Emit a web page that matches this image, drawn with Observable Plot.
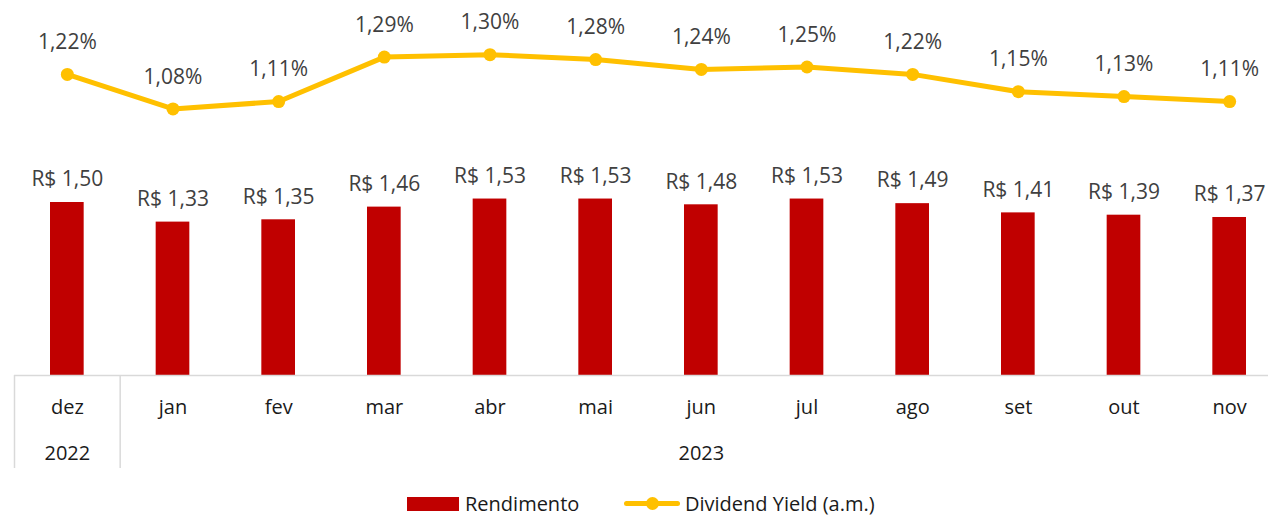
<!DOCTYPE html>
<html><head><meta charset="utf-8">
<script src="https://cdn.jsdelivr.net/npm/d3@7"></script>
<script src="https://cdn.jsdelivr.net/npm/@observablehq/plot@0.6"></script>
<style>
body{margin:0;background:#fff;font-family:"Open Sans",sans-serif;}
#wrap{position:relative;width:1268px;height:516px;overflow:hidden;background:#fff;}
#chart{position:absolute;left:0;top:0;}
#legend{position:absolute;top:480px;left:0;width:1268px;height:36px;font-size:20px;color:#1a1a1a;}
.sw{position:absolute;}
.lt{position:absolute;line-height:24px;white-space:nowrap;}
</style></head><body>
<div id="wrap"><div id="chart"></div>
<div id="legend">
  <div class="sw" style="left:407px;top:17px;width:52px;height:14px;background:#C00000"></div>
  <div class="lt" style="left:465px;top:12px">Rendimento</div>
  <div class="sw" style="left:624px;top:21px;width:56px;height:5px;background:#FFC000;border-radius:3px"></div>
  <div class="sw" style="left:646px;top:17px;width:13px;height:13px;background:#FFC000;border-radius:50%"></div>
  <div class="lt" style="left:685px;top:12px">Dividend Yield (a.m.)</div>
</div></div>
<script>
const months = ["dez","jan","fev","mar","abr","mai","jun","jul","ago","set","out","nov"];
const years = ["2022","2023"];
const yearAnchor = ["dez","jun"];
const separators = ["dez","jan"];
const rendimento = [1.50,1.33,1.35,1.46,1.53,1.53,1.48,1.53,1.49,1.41,1.39,1.37];
const dividendYield = [1.22,1.08,1.11,1.29,1.30,1.28,1.24,1.25,1.22,1.15,1.13,1.11];

const rows = months.map((m,i)=>({m, r: rendimento[i], dy: dividendYield[i]}));
const LINE_K = 2.14; // secondary-axis scaling of the yield line
const fmtR = v => "R$ " + v.toFixed(2).replace(".",",");
const fmtP = v => v.toFixed(2).replace(".",",") + "%";

const plot = Plot.plot({
  width:1268, height:480, marginLeft:14, marginRight:0, marginTop:29, marginBottom:105,
  style:{fontFamily:"'Open Sans', sans-serif", fontSize:"20px", background:"transparent", overflow:"visible"},
  x:{type:"band", domain:months, range:[14,1282], padding:0, round:false, axis:null},
  y:{domain:[0,3], axis:null},
  marks:[
    Plot.barY(rows,{x:"m", y:"r", fill:"#C00000", insetLeft:36, insetRight:36}),
    Plot.ruleY([0],{stroke:"#d9d9d9", strokeWidth:1.5}),
    Plot.ruleX(separators,{x:d=>d, dx:-52.83, insetTop:346, insetBottom:-93, stroke:"#d9d9d9", strokeWidth:1.5}),
    Plot.text(months,{x:d=>d, frameAnchor:"bottom", lineAnchor:"middle", dy:32, text:d=>d, fill:"#1a1a1a", fontSize:20}),
    Plot.text(years,{x:(d,i)=>yearAnchor[i], frameAnchor:"bottom", lineAnchor:"middle", dy:78, text:d=>d, fill:"#1a1a1a", fontSize:20}),
    Plot.line(rows,{x:"m", y:d=>d.dy*LINE_K, stroke:"#FFC000", strokeWidth:5}),
    Plot.dot(rows,{x:"m", y:d=>d.dy*LINE_K, r:6.5, fill:"#FFC000"}),
    Plot.text(rows,{x:"m", y:"r", text:d=>fmtR(d.r), dy:-23, fill:"#404040", fontSize:21}),
    Plot.text(rows,{x:"m", y:d=>d.dy*LINE_K, text:d=>fmtP(d.dy), dy:-32, fill:"#404040", fontSize:21})
  ]
});
document.getElementById("chart").appendChild(plot);
</script>
</body></html>
